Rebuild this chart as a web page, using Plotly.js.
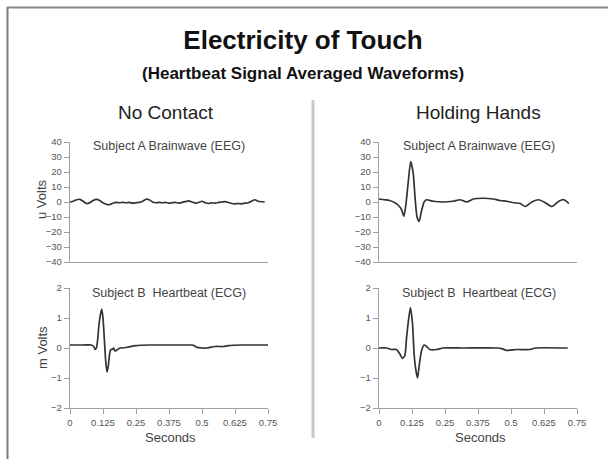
<!DOCTYPE html>
<html>
<head>
<meta charset="utf-8">
<script src="https://cdn.plot.ly/plotly-3.0.1.min.js"></script>
<style>html,body{margin:0;padding:0;background:#fff;}#chart{width:608px;height:459px;}</style>
</head>
<body>
<div id="chart"></div>
<script>
// ---- data ----
const noContactEegT = [0,0.0125,0.025,0.0375,0.05,0.0625,0.075,0.0875,0.1,0.1125,0.125,0.1375,0.15,0.1625,0.175,0.1875,0.2,0.2125,0.225,0.2375,0.25,0.2625,0.275,0.2875,0.3,0.3125,0.325,0.3375,0.35,0.3625,0.375,0.3875,0.4,0.4125,0.425,0.4375,0.45,0.4625,0.475,0.4875,0.5,0.5125,0.525,0.5375,0.55,0.5625,0.575,0.5875,0.6,0.6125,0.625,0.6375,0.65,0.6625,0.675,0.6875,0.7,0.7125,0.7375];
const noContactEegV = [0,0.5,1.5,1.8,0.5,-1,-0.5,1,1.8,1,-0.5,-1.5,-1.8,-0.8,-0.3,-0.5,-0.2,-0.5,-0.3,-0.8,-0.5,-0.3,0.5,1.8,1.5,0,-0.5,-0.3,-0.5,-0.2,-0.8,-0.5,-0.3,-0.8,-0.2,0.3,0.8,0,-0.8,-0.3,0.5,-0.5,-1,-0.5,-0.8,-0.3,0,0.3,-0.3,-1,-1.2,-1,-1.2,-0.8,-0.5,0.5,1.5,0.5,0];

const noContactEcgT = [0,0.05,0.08,0.09,0.095,0.1,0.105,0.11,0.115,0.12,0.125,0.13,0.135,0.14,0.145,0.15,0.155,0.16,0.165,0.17,0.18,0.19,0.2,0.22,0.25,0.3,0.35,0.4,0.45,0.46,0.47,0.48,0.5,0.52,0.53,0.55,0.58,0.6,0.65,0.7,0.75];
const noContactEcgV = [0.1,0.1,0.1,0.05,-0.05,0.0,0.3,0.8,1.1,1.3,1.0,0.3,-0.4,-0.8,-0.6,-0.2,-0.05,-0.05,0.0,-0.1,-0.05,0.0,0.0,0.03,0.08,0.1,0.1,0.1,0.1,0.1,0.08,0.02,0.0,0.0,0.02,0.05,0.05,0.08,0.1,0.1,0.1];

const holdingEegT = [0,0.02,0.04,0.06,0.072,0.085,0.094,0.101,0.11,0.12,0.129,0.137,0.144,0.152,0.161,0.171,0.18,0.205,0.243,0.28,0.307,0.332,0.357,0.395,0.433,0.459,0.484,0.51,0.535,0.554,0.579,0.605,0.63,0.655,0.681,0.7,0.719];
const holdingEegV = [2,1.5,1,-0.5,-2,-5,-9.5,-3,12,27,20,2,-10,-13,-6,0,1.5,0.5,0,0.5,1.5,0,2,2.5,2,1,0.5,-0.5,-1,-3,0,1.5,-0.5,-3,0.5,1.5,-1];

const holdingEcgT = [0,0.028,0.047,0.066,0.079,0.089,0.098,0.104,0.11,0.119,0.127,0.133,0.139,0.146,0.152,0.161,0.171,0.18,0.193,0.218,0.243,0.32,0.446,0.465,0.484,0.522,0.573,0.592,0.715];
const holdingEcgV = [0,0,-0.05,-0.05,-0.2,-0.35,-0.25,0.3,0.8,1.35,0.8,-0.2,-0.7,-1.0,-0.6,-0.1,0.1,0.05,-0.05,-0.05,0,0,0,-0.02,-0.08,-0.05,-0.05,0,0];

const xTickVals = [0,0.125,0.25,0.375,0.5,0.625,0.75];
const xTickText = ['0','0.125','0.25','0.375','0.5','0.625','0.75'];
const eegTicks = [-40,-30,-20,-10,0,10,20,30,40];
const ecgTicks = [-2,-1,0,1,2];

const chartTitle = 'Electricity of Touch';
const chartSubtitle = '(Heartbeat Signal Averaged Waveforms)';
const columnTitles = ['No Contact','Holding Hands'];
const eegTitle = 'Subject A Brainwave (EEG)';
const ecgTitle = 'Subject B  Heartbeat (ECG)';

// ---- layout helpers ----
const W = 608, H = 459;
const px = v => v / W;
const py = v => 1 - v / H;
const FONT = 'Liberation Sans, Arial, sans-serif';

const traces = [
  {x: noContactEegT, y: noContactEegV, xaxis: 'x', yaxis: 'y'},
  {x: noContactEcgT, y: noContactEcgV, xaxis: 'x2', yaxis: 'y2'},
  {x: holdingEegT, y: holdingEegV, xaxis: 'x3', yaxis: 'y3'},
  {x: holdingEcgT, y: holdingEcgV, xaxis: 'x4', yaxis: 'y4'}
].map(t => Object.assign(t, {
  type: 'scatter', mode: 'lines', hoverinfo: 'skip',
  line: {color: '#333', width: 1.7, shape: 'spline', smoothing: 0.6}
}));

const colL = [px(70), px(268)];
const colR = [px(379), px(577)];
const rowTop = [py(262), py(142)];
const rowBot = [py(408), py(288)];

const tickFont = {family: FONT, size: 9.5, color: '#555'};
function xAxis(domain, anchor, labels) {
  return {
    domain: domain, anchor: anchor, range: [0, 0.75], showgrid: false, zeroline: false,
    showline: true, linecolor: '#a0a0a0', linewidth: 1.2,
    tickmode: 'array', tickvals: labels ? xTickVals : [], ticktext: labels ? xTickText : [],
    ticks: labels ? 'outside' : '', ticklen: 5, tickcolor: '#a0a0a0', tickfont: tickFont,
    showticklabels: labels, fixedrange: true
  };
}
function yAxis(domain, anchor, range, vals) {
  return {
    domain: domain, anchor: anchor, range: range, showgrid: false, zeroline: false,
    showline: true, linecolor: '#a0a0a0', linewidth: 1.2,
    tickmode: 'array', tickvals: vals, ticks: 'outside', ticklen: 5, tickcolor: '#a0a0a0',
    tickfont: tickFont, fixedrange: true
  };
}

const ann = (text, x, y, size, color, opts) => Object.assign({
  text: text, x: px(x), y: py(y), xref: 'paper', yref: 'paper', showarrow: false,
  xanchor: 'center', yanchor: 'middle', font: {family: FONT, size: size, color: color}
}, opts || {});

const layout = {
  width: W, height: H, margin: {l: 0, r: 0, t: 0, b: 0},
  paper_bgcolor: '#fff', plot_bgcolor: 'rgba(0,0,0,0)', showlegend: false,
  title: {text: '<b>' + chartTitle + '</b>', x: px(303), xanchor: 'center', y: py(40), yanchor: 'middle',
          font: {family: FONT, size: 26, color: '#111'}},
  xaxis: xAxis(colL, 'y', false),
  yaxis: yAxis(rowTop, 'x', [-40, 40], eegTicks),
  xaxis2: xAxis(colL, 'y2', true),
  yaxis2: yAxis(rowBot, 'x2', [-2, 2], ecgTicks),
  xaxis3: xAxis(colR, 'y3', false),
  yaxis3: yAxis(rowTop, 'x3', [-40, 40], eegTicks),
  xaxis4: xAxis(colR, 'y4', true),
  yaxis4: yAxis(rowBot, 'x4', [-2, 2], ecgTicks),
  annotations: [
    ann('<b>' + chartSubtitle + '</b>', 303, 73, 17, '#111'),
    ann(columnTitles[0], 166, 113, 19, '#222'),
    ann(columnTitles[1], 478, 113, 19, '#222'),
    ann(eegTitle, 169, 146, 12.5, '#444'),
    ann(eegTitle, 479, 146, 12.5, '#444'),
    ann(ecgTitle, 169, 293, 12.5, '#444'),
    ann(ecgTitle, 479, 293, 12.5, '#444'),
    ann('u Volts', 42, 199, 13, '#444', {textangle: -90}),
    ann('m Volts', 42, 348, 13, '#444', {textangle: -90}),
    ann('Seconds', 170, 437, 13, '#444'),
    ann('Seconds', 480, 437, 13, '#444')
  ],
  shapes: [
    {type: 'line', xref: 'paper', yref: 'paper', x0: px(7.5), x1: px(7.5), y0: py(7), y1: -0.05,
     line: {color: '#7a7a7a', width: 2}},
    {type: 'line', xref: 'paper', yref: 'paper', x0: px(7), x1: 1.05, y0: py(7.5), y1: py(7.5),
     line: {color: '#8a8a8a', width: 2}},
    {type: 'line', xref: 'paper', yref: 'paper', x0: px(313), x1: px(313), y0: py(100), y1: py(438),
     line: {color: '#c8c8c8', width: 3}}
  ]
};

Plotly.newPlot('chart', traces, layout, {staticPlot: true, displayModeBar: false});
</script>
</body>
</html>
